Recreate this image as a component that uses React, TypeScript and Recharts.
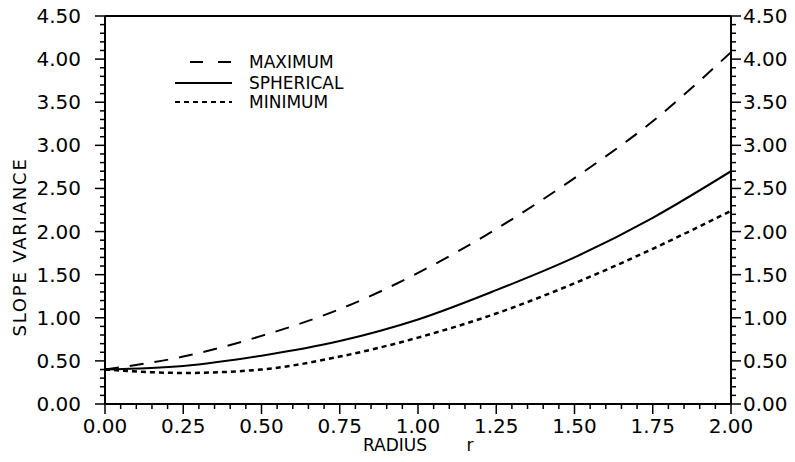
import React from 'react';
import { LineChart, Line, XAxis, YAxis, Legend, Label } from 'recharts';

// radius r and slope variance values
const RADIUS = [0, 0.25, 0.5, 0.75, 1.0, 1.25, 1.5, 1.75, 2.0];
const MAXIMUM = [0.4, 0.55, 0.79, 1.1, 1.52, 2.03, 2.62, 3.28, 4.08];
const SPHERICAL = [0.4, 0.44, 0.56, 0.73, 0.98, 1.32, 1.7, 2.16, 2.7];
const MINIMUM = [0.4, 0.36, 0.4, 0.55, 0.77, 1.05, 1.4, 1.8, 2.24];

const X_TICKS = [0, 0.25, 0.5, 0.75, 1.0, 1.25, 1.5, 1.75, 2.0];
const Y_TICKS = [0, 0.5, 1.0, 1.5, 2.0, 2.5, 3.0, 3.5, 4.0, 4.5];
// minor ticks: every 0.05 on r, every 0.1 on the variance axis
const X_ALL = Array.from({ length: 41 }, (_, i) => i * 0.05);
const Y_ALL = Array.from({ length: 46 }, (_, i) => i * 0.1);

const FONT = '"DejaVu Sans", sans-serif';
const INK = '#000';
const MAX_DASH = '14 11';
const MIN_DASH = '5 4';
const MAJOR = 10;
const MINOR = 5;

const data = RADIUS.map((r, i) => ({ r, max: MAXIMUM[i], sph: SPHERICAL[i], min: MINIMUM[i] }));

const fmt = (v: number) => v.toFixed(2);
const isMajor = (v: number, list: number[]) => list.some(t => Math.abs(t - v) < 1e-6);

function XTick(props: any) {
  const { x, y, payload } = props;
  const major = isMajor(payload.value, X_TICKS);
  return (
    <g>
      <line x1={x} x2={x} y1={y} y2={y + (major ? MAJOR : MINOR)} stroke={INK} strokeWidth={1.5} />
      {major && (
        <text x={x} y={y + 14} dy="0.75em" textAnchor="middle" fontSize={20} fontFamily={FONT} fill={INK}>
          {fmt(payload.value)}
        </text>
      )}
    </g>
  );
}

function YTick(props: any) {
  const { x, y, payload, side } = props;
  const major = isMajor(payload.value, Y_TICKS);
  const dir = side === 'right' ? 1 : -1;
  const len = major ? MAJOR : MINOR;
  return (
    <g>
      <line x1={x} x2={x + dir * len} y1={y} y2={y} stroke={INK} strokeWidth={1.5} />
      {major && (
        <text x={side === 'right' ? x + 12 : x - 24} y={y} dominantBaseline="central"
          textAnchor={side === 'right' ? 'start' : 'end'} fontSize={20} fontFamily={FONT} fill={INK}>
          {fmt(payload.value)}
        </text>
      )}
    </g>
  );
}

function LegendBox() {
  const rows = [
    { name: 'MAXIMUM', dash: '13 15', x1: 20 },
    { name: 'SPHERICAL', dash: undefined, x1: 5 },
    { name: 'MINIMUM', dash: MIN_DASH, x1: 5 },
  ];
  const ys = [10, 31, 50];
  return (
    <svg width={200} height={62}>
      {rows.map((row, i) => (
        <g key={row.name}>
          <line x1={row.x1} x2={62} y1={ys[i]} y2={ys[i]} stroke={INK} strokeWidth={2} strokeDasharray={row.dash} />
          <text x={79} y={ys[i]} dominantBaseline="central" fontSize={17} fontFamily={FONT} fill={INK}>
            {row.name}
          </text>
        </g>
      ))}
    </svg>
  );
}

function XLabel(props: any) {
  const { x } = props.viewBox;
  return (
    <g fontFamily={FONT} fontSize={17} fill={INK}>
      <text x={x + 290} y={445} textAnchor="middle" dominantBaseline="central">RADIUS</text>
      <text x={x + 365} y={445} textAnchor="middle" dominantBaseline="central">r</text>
    </g>
  );
}

function YLabel() {
  const cx = 19;
  const cy = 247;
  return (
    <text x={cx} y={cy} transform={`rotate(-90 ${cx} ${cy})`} textAnchor="middle" dominantBaseline="central"
      fontFamily={FONT} fontSize={18} letterSpacing={1.8} fill={INK}>
      SLOPE  VARIANCE
    </text>
  );
}

export default function App() {
  const axisLine = { stroke: INK, strokeWidth: 2 };
  return (
    <div style={{ position: 'absolute', left: 0, top: 0, width: 795, height: 462, background: '#fff' }}>
      <LineChart width={795} height={462} data={data} margin={{ top: 15, right: 0, bottom: 0, left: 0 }}>
        <XAxis xAxisId="top" orientation="top" dataKey="r" type="number" domain={[0, 2]} ticks={X_TICKS} height={1}
          tick={false} tickLine={false} axisLine={axisLine} allowDataOverflow />
        <XAxis xAxisId="main" dataKey="r" type="number" domain={[0, 2]} ticks={X_ALL} interval={0} height={58}
          tickSize={0} tickMargin={0} tick={<XTick />} tickLine={false} axisLine={axisLine} allowDataOverflow>
          <Label content={<XLabel />} />
        </XAxis>
        <YAxis yAxisId="main" type="number" domain={[0, 4.5]} ticks={Y_ALL} interval={0} width={105}
          tickSize={0} tickMargin={0} tick={<YTick side="left" />} tickLine={false} axisLine={axisLine}
          allowDataOverflow>
          <Label content={<YLabel />} />
        </YAxis>
        <YAxis yAxisId="right" orientation="right" type="number" domain={[0, 4.5]} ticks={Y_ALL} interval={0}
          width={64} tickSize={0} tickMargin={0} tick={<YTick side="right" />} tickLine={false}
          axisLine={axisLine} allowDataOverflow />
        <Legend layout="vertical" align="center" verticalAlign="middle" content={<LegendBox />}
          wrapperStyle={{ left: 170, top: 52, width: 200, height: 62 }} />
        <Line xAxisId="main" yAxisId="main" dataKey="max" name="MAXIMUM" type="monotone" stroke={INK}
          strokeWidth={2} strokeDasharray={MAX_DASH} dot={false} isAnimationActive={false} />
        <Line xAxisId="main" yAxisId="main" dataKey="sph" name="SPHERICAL" type="monotone" stroke={INK}
          strokeWidth={2} dot={false} isAnimationActive={false} />
        <Line xAxisId="main" yAxisId="main" dataKey="min" name="MINIMUM" type="monotone" stroke={INK}
          strokeWidth={2.5} strokeDasharray={MIN_DASH} dot={false} isAnimationActive={false} />
      </LineChart>
    </div>
  );
}
